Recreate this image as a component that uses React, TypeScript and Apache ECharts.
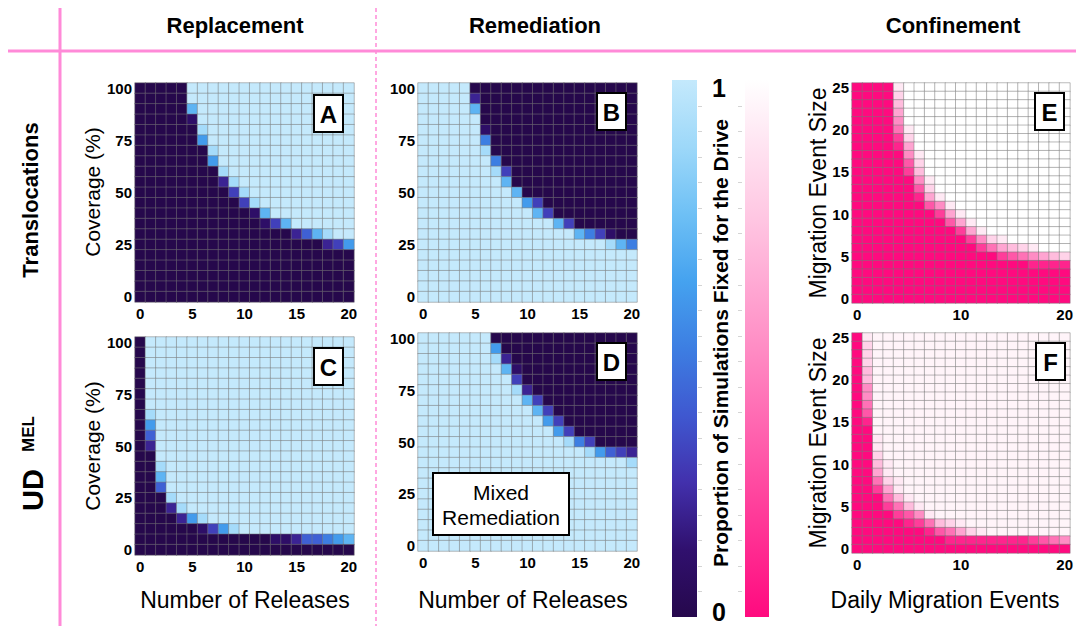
import React, { useEffect, useRef } from "react";
import * as echarts from "echarts";

// ---- category axes ----
const releaseCounts = ["0","1","2","3","4","5","6","7","8","9","10","11","12","13","14","15","16","17","18","19","20"];
const coverageLevels = ["0","5","10","15","20","25","30","35","40","45","50","55","60","65","70","75","80","85","90","95","100"];
const dailyMigrationEvents = ["0","1","2","3","4","5","6","7","8","9","10","11","12","13","14","15","16","17","18","19","20"];
const migrationEventSizes = ["0","1","2","3","4","5","6","7","8","9","10","11","12","13","14","15","16","17","18","19","20","21","22","23","24","25"];

// ---- proportion of simulations fixed for the drive ----
// Each string is one row of cells, top row (highest y category) first,
// one character per x category. Digits are tenths, "W" = 0.95, "A" = 1.
const replacementTranslocations = [
  "00000AAAAAAAAAAAAAAAA",
  "00000AAAAAAAAAAAAAAAA",
  "000007AAAAAAAAAAAAAAA",
  "000001AAAAAAAAAAAAAAA",
  "0000009AAAAAAAAAAAAAA",
  "0000006AAAAAAAAAAAAAA",
  "00000009AAAAAAAAAAAAA",
  "00000006AAAAAAAAAAAAA",
  "000000009AAAAAAAAAAAA",
  "0000000029AAAAAAAAAAA",
  "00000000039AAAAAAAAAA",
  "000000000039AAAAAAAAA",
  "0000000000017AAAAAAAA",
  "000000000000137AAAAAA",
  "0000000000000002479AA",
  "000000000000000000236",
  "000000000000000000000",
  "000000000000000000000",
  "000000000000000000000",
  "000000000000000000000",
  "000000000000000000000",
];

const remediationTranslocations = [
  "AAAAA0000000000000000",
  "AAAAA2000000000000000",
  "AAAAA7000000000000000",
  "AAAAAA000000000000000",
  "AAAAAA100000000000000",
  "AAAAAA500000000000000",
  "AAAAAA900000000000000",
  "AAAAAAA50000000000000",
  "AAAAAAA93000000000000",
  "AAAAAAAA7000000000000",
  "AAAAAAAAA700000000000",
  "AAAAAAAAAA63000000000",
  "AAAAAAAAAAA7300000000",
  "AAAAAAAAAAAAA73000000",
  "AAAAAAAAAAAAAAA753100",
  "AAAAAAAAAAAAAAAAAA975",
  "AAAAAAAAAAAAAAAAAAAAA",
  "AAAAAAAAAAAAAAAAAAAAA",
  "AAAAAAAAAAAAAAAAAAAAA",
  "AAAAAAAAAAAAAAAAAAAAA",
  "AAAAAAAAAAAAAAAAAAAAA",
];

const replacementUdMel = [
  "0AAAAAAAAAAAAAAAAAAAA",
  "0AAAAAAAAAAAAAAAAAAAA",
  "0AAAAAAAAAAAAAAAAAAAA",
  "0AAAAAAAAAAAAAAAAAAAA",
  "0AAAAAAAAAAAAAAAAAAAA",
  "0AAAAAAAAAAAAAAAAAAAA",
  "0AAAAAAAAAAAAAAAAAAAA",
  "09AAAAAAAAAAAAAAAAAAA",
  "06AAAAAAAAAAAAAAAAAAA",
  "04AAAAAAAAAAAAAAAAAAA",
  "02AAAAAAAAAAAAAAAAAAA",
  "00AAAAAAAAAAAAAAAAAAA",
  "009AAAAAAAAAAAAAAAAAA",
  "007AAAAAAAAAAAAAAAAAA",
  "004AAAAAAAAAAAAAAAAAA",
  "0009AAAAAAAAAAAAAAAAA",
  "00029AAAAAAAAAAAAAAAA",
  "0000269AAAAAAAAAAAAAA",
  "0000001369AAAAAAAAAAA",
  "000000000000011244567",
  "000000000000000000000",
];

const mixedRemediationUdMel = [
  "AAAAAAA00000000000000",
  "AAAAAAA60000000000000",
  "AAAAAAA92000000000000",
  "AAAAAAAA7100000000000",
  "AAAAAAAAA300000000000",
  "AAAAAAAAA920000000000",
  "AAAAAAAAAA73000000000",
  "AAAAAAAAAAA7300000000",
  "AAAAAAAAAAAA630000000",
  "AAAAAAAAAAAAA63000000",
  "AAAAAAAAAAAAAA9530000",
  "AAAAAAAAAAAAAAAA96432",
  "AAAAAAAAAAAAAAAAAAAA9",
  "AAAAAAAAAAAAAAAAAAAAA",
  "AAAAAAAAAAAAAAAAAAAAA",
  "AAAAAAAAAAAAAAAAAAAAA",
  "AAAAAAAAAAAAAAAAAAAAA",
  "AAAAAAAAAAAAAAAAAAAAA",
  "AAAAAAAAAAAAAAAAAAAAA",
  "AAAAAAAAAAAAAAAAAAAAA",
  "AAAAAAAAAAAAAAAAAAAAA",
];

const confinementTranslocations = [
  "00009AAAAAAAAAAAAAAAA",
  "00008AAAAAAAAAAAAAAAA",
  "00007AAAAAAAAAAAAAAAA",
  "00006AAAAAAAAAAAAAAAA",
  "00005AAAAAAAAAAAAAAAA",
  "000049AAAAAAAAAAAAAAA",
  "000028AAAAAAAAAAAAAAA",
  "000016AAAAAAAAAAAAAAA",
  "0000059AAAAAAAAAAAAAA",
  "0000038AAAAAAAAAAAAAA",
  "0000027AAAAAAAAAAAAAA",
  "00000059AAAAAAAAAAAAA",
  "00000038AAAAAAAAAAAAA",
  "000000169AAAAAAAAAAAA",
  "0000000359AAAAAAAAAAA",
  "00000000269AAAAAAAAAA",
  "000000000369AAAAAAAAA",
  "0000000000269AAAAAAAA",
  "000000000002589AAAAAA",
  "000000000000246789AAA",
  "000000000000002345678",
  "000000000000000001111",
  "000000000000000000000",
  "000000000000000000000",
  "000000000000000000000",
  "000000000000000000000",
];

const confinementUdMel = [
  "09WWWWWWWWWWWWWWWWWWW",
  "08WWWWWWWWWWWWWWWWWWW",
  "08WWWWWWWWWWWWWWWWWWW",
  "08WWWWWWWWWWWWWWWWWWW",
  "07WWWWWWWWWWWWWWWWWWW",
  "07WWWWWWWWWWWWWWWWWWW",
  "05WWWWWWWWWWWWWWWWWWW",
  "05WWWWWWWWWWWWWWWWWWW",
  "04WWWWWWWWWWWWWWWWWWW",
  "03WWWWWWWWWWWWWWWWWWW",
  "01WWWWWWWWWWWWWWWWWWW",
  "00WWWWWWWWWWWWWWWWWWW",
  "009WWWWWWWWWWWWWWWWWW",
  "009WWWWWWWWWWWWWWWWWW",
  "008WWWWWWWWWWWWWWWWWW",
  "0079WWWWWWWWWWWWWWWWW",
  "0069WWWWWWWWWWWWWWWWW",
  "00489WWWWWWWWWWWWWWWW",
  "00269WWWWWWWWWWWWWWWW",
  "000479WWWWWWWWWWWWWWW",
  "0002479WWWWWWWWWWWWWW",
  "00002359WWWWWWWWWWWWW",
  "00000124789WWWWWWWWWW",
  "0000000134689WWWWWWWW",
  "000000000111111112345",
  "000000000000000000000",
];

// ---- colour scales (value 0 → 1) ----
const driveBlues = ["#26084c", "#30106e", "#4230ac", "#3f58d0", "#3d7ee2", "#45a2ef", "#6ec0f5", "#9dd8f9", "#c4e9fc"];
const confinementPinks = ["#ff0a7f", "#ff2a90", "#ff4aa1", "#ff6bb3", "#ff8cc4", "#ffaad4", "#ffc8e3", "#ffe3f1", "#ffffff"];

const FONT = '"Liberation Sans", Arial, Helvetica, sans-serif';
const GUIDE_PINK = "#ff8ad8";

type Panel = {
  letter: string;
  rows: string[];
  xCats: string[];
  yCats: string[];
  xEvery: number;
  yEvery: number;
  left: number;
  top: number;
  width: number;
  height: number;
  badgeRight: number;
  badgeTop: number;
};

const panels: Panel[] = [
  { letter: "A", rows: replacementTranslocations, xCats: releaseCounts, yCats: coverageLevels, xEvery: 5, yEvery: 5, left: 135, top: 83, width: 219, height: 219, badgeRight: 343, badgeTop: 95 },
  { letter: "B", rows: remediationTranslocations, xCats: releaseCounts, yCats: coverageLevels, xEvery: 5, yEvery: 5, left: 418, top: 83, width: 219, height: 219, badgeRight: 626, badgeTop: 93 },
  { letter: "C", rows: replacementUdMel, xCats: releaseCounts, yCats: coverageLevels, xEvery: 5, yEvery: 5, left: 135, top: 337, width: 219, height: 218, badgeRight: 343, badgeTop: 348 },
  { letter: "D", rows: mixedRemediationUdMel, xCats: releaseCounts, yCats: coverageLevels, xEvery: 5, yEvery: 5, left: 418, top: 333, width: 219, height: 218, badgeRight: 626, badgeTop: 343 },
  { letter: "E", rows: confinementTranslocations, xCats: dailyMigrationEvents, yCats: migrationEventSizes, xEvery: 10, yEvery: 5, left: 852, top: 83, width: 220, height: 220, badgeRight: 1064, badgeTop: 93 },
  { letter: "F", rows: confinementUdMel, xCats: dailyMigrationEvents, yCats: migrationEventSizes, xEvery: 10, yEvery: 5, left: 852, top: 333, width: 220, height: 220, badgeRight: 1065, badgeTop: 343 },
];

const cellValue = (ch: string): number => (ch === "A" ? 1 : ch === "W" ? 0.95 : Number(ch) / 10);

const toCells = (rows: string[]) => {
  const cells: [number, number, number][] = [];
  const n = rows.length;
  rows.forEach((row, k) => {
    for (let c = 0; c < row.length; c++) cells.push([c, n - 1 - k, cellValue(row[c])]);
  });
  return cells;
};

const text = (
  str: string,
  x: number,
  y: number,
  size: number,
  weight: string,
  rotate = false,
  extra: Record<string, unknown> = {}
) => ({
  type: "text",
  x,
  y,
  rotation: rotate ? Math.PI / 2 : 0,
  z: 20,
  silent: true,
  style: {
    text: str,
    x: 0,
    y: 0,
    fill: "#000",
    fontSize: size,
    fontWeight: weight,
    fontFamily: FONT,
    align: "center",
    verticalAlign: "middle",
    textAlign: "center",
    textVerticalAlign: "middle",
    ...extra,
  },
});

const gradientFill = (stops: string[]) => ({
  type: "linear",
  x: 0,
  y: 1,
  x2: 0,
  y2: 0,
  colorStops: stops.map((color, i) => ({ offset: i / (stops.length - 1), color })),
});

function buildOption() {
  const axisLabelBase = { color: "#000", fontWeight: "bold", fontSize: 15, fontFamily: FONT };

  const graphic: any[] = [];

  // section guides
  graphic.push({ type: "line", z: 5, silent: true, shape: { x1: 8, y1: 51, x2: 1076, y2: 51 }, style: { stroke: GUIDE_PINK, lineWidth: 3 } });
  graphic.push({ type: "line", z: 5, silent: true, shape: { x1: 60, y1: 8, x2: 60, y2: 626 }, style: { stroke: GUIDE_PINK, lineWidth: 3 } });
  graphic.push({ type: "line", z: 5, silent: true, shape: { x1: 376, y1: 8, x2: 376, y2: 626 }, style: { stroke: GUIDE_PINK, lineWidth: 1.5, lineDash: [4, 3] } });

  // column headers
  graphic.push(text("Replacement", 235, 25, 22, "bold"));
  graphic.push(text("Remediation", 535, 25, 22, "bold"));
  graphic.push(text("Confinement", 953, 25, 22, "bold"));

  // row headers
  graphic.push(text("Translocations", 30, 200, 22, "bold", true));
  graphic.push(text("UD", 33, 490, 29, "bold", true));
  graphic.push(text("MEL", 28, 434, 17, "bold", true));

  // axis names
  graphic.push(text("Coverage (%)", 92, 192, 21, "normal", true));
  graphic.push(text("Coverage (%)", 92, 446, 21, "normal", true));
  graphic.push(text("Number of Releases", 245, 600, 23, "normal"));
  graphic.push(text("Number of Releases", 523, 600, 23, "normal"));
  graphic.push(text("Migration Event Size", 818, 193, 23, "normal", true));
  graphic.push(text("Migration Event Size", 818, 443, 23, "normal", true));
  graphic.push(text("Daily Migration Events", 945, 600, 23, "normal"));

  // colour bars
  const barTop = 80;
  const barHeight = 537;
  graphic.push({ type: "rect", z: 5, silent: true, shape: { x: 672, y: barTop, width: 25, height: barHeight }, style: { fill: gradientFill(driveBlues) } });
  graphic.push({ type: "rect", z: 5, silent: true, shape: { x: 745, y: barTop, width: 24, height: barHeight }, style: { fill: gradientFill(confinementPinks) } });
  const tickSteps = 21;
  for (let i = 1; i < tickSteps; i++) {
    const ty = Math.round(barTop + (barHeight * i) / tickSteps) + 0.5;
    graphic.push({ type: "line", z: 5, silent: true, shape: { x1: 698, y1: ty, x2: 702, y2: ty }, style: { stroke: "#d4d4d4", lineWidth: 1 } });
    graphic.push({ type: "line", z: 5, silent: true, shape: { x1: 738, y1: ty, x2: 742, y2: ty }, style: { stroke: "#d4d4d4", lineWidth: 1 } });
  }
  graphic.push(text("1", 719, 88, 25, "bold"));
  graphic.push(text("0", 719, 612, 25, "bold"));
  graphic.push(text("Proportion of Simulations Fixed for the Drive", 720, 343, 21, "bold", true));

  // panel badges
  panels.forEach((p) => {
    const w = 29;
    const h = 37;
    const x = p.badgeRight - w;
    graphic.push({ type: "rect", z: 20, silent: true, shape: { x, y: p.badgeTop, width: w, height: h }, style: { fill: "#fff", stroke: "#000", lineWidth: 2 } });
    graphic.push(text(p.letter, x + w / 2, p.badgeTop + h / 2 + 1, 24, "bold"));
  });

  // mixed remediation note
  graphic.push({ type: "rect", z: 20, silent: true, shape: { x: 433, y: 473, width: 136, height: 62 }, style: { fill: "#fff", stroke: "#000", lineWidth: 2 } });
  graphic.push(text("Mixed\nRemediation", 501, 505, 21, "normal", false, { lineHeight: 25 }));

  return {
    animation: false,
    backgroundColor: "#fff",
    grid: panels.map((p) => ({ left: p.left, top: p.top, width: p.width, height: p.height, containLabel: false })),
    xAxis: panels.map((p, i) => ({
      type: "category",
      gridIndex: i,
      data: p.xCats,
      axisLine: { show: false },
      axisTick: { show: false },
      splitLine: { show: false },
      axisLabel: { ...axisLabelBase, margin: 4, interval: (idx: number) => idx % p.xEvery === 0 },
    })),
    yAxis: panels.map((p, i) => ({
      type: "category",
      gridIndex: i,
      data: p.yCats,
      axisLine: { show: false },
      axisTick: { show: false },
      splitLine: { show: false },
      axisLabel: { ...axisLabelBase, margin: 3, interval: (idx: number) => idx % p.yEvery === 0 },
    })),
    visualMap: [
      { type: "continuous", min: 0, max: 1, show: false, seriesIndex: [0, 1, 2, 3], inRange: { color: driveBlues } },
      { type: "continuous", min: 0, max: 1, show: false, seriesIndex: [4, 5], inRange: { color: confinementPinks } },
    ],
    series: panels.map((p, i) => ({
      type: "heatmap",
      name: p.letter,
      xAxisIndex: i,
      yAxisIndex: i,
      data: toCells(p.rows),
      silent: true,
      itemStyle: { borderColor: "rgba(120,120,120,0.5)", borderWidth: 1 },
      emphasis: { disabled: true },
    })),
    graphic,
  };
}

export default function App() {
  const ref = useRef<HTMLDivElement>(null);
  useEffect(() => {
    if (!ref.current) return;
    const chart = echarts.init(ref.current, undefined, { renderer: "svg" });
    chart.setOption(buildOption() as any);
    return () => chart.dispose();
  }, []);
  return <div ref={ref} style={{ position: "absolute", left: 0, top: 0, width: 1076, height: 626 }} />;
}
